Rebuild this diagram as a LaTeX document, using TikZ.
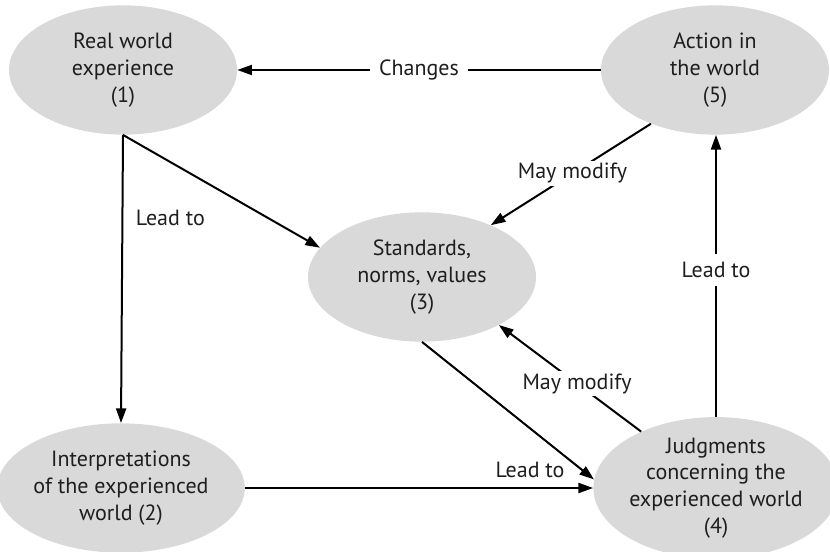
\documentclass[tikz,border=0pt]{standalone}
\usepackage{fontspec}
\setmainfont{PT Sans}
\usetikzlibrary{shapes.geometric,arrows.meta}
\definecolor{blobfill}{RGB}{217,217,217}
\definecolor{inkgray}{RGB}{30,30,30}
\begin{document}
\begin{tikzpicture}[x=0.75pt,y=-0.75pt,
  font=\fontsize{16.5pt}{20pt}\selectfont,
  blob/.style={ellipse,fill=blobfill,draw=none,inner sep=0pt,
    minimum width=171pt,minimum height=97pt,align=center,text=inkgray},
  conn/.style={line width=1.5pt,draw=black,
    -{Triangle[length=11pt,width=7.5pt]}},
  lbl/.style={text=inkgray,inner sep=2pt}]
\useasboundingbox (0,0) rectangle (830,552);

% the five stages
\node[blob] (n1) at (123,70)  {Real world\\experience\\(1)};
\node[blob] (n5) at (715,70)  {Action in\\the world\\(5)};
\node[blob] (n3) at (422,277) {Standards,\\norms, values\\(3)};
\node[blob] (n2) at (121,488) {Interpretations\\of the experienced\\world (2)};
\node[blob,minimum width=167pt] (n4) at (716,488) {Judgments\\concerning the\\experienced world\\(4)};

% connectors
\draw[conn] (n5.west) -- node[lbl,fill=white,inner xsep=7pt] {Changes} (n1.east);
\draw[conn] (n1.south) -- (n2.north);
\node[lbl,anchor=west] (l12) at (133,218) {Lead to};
\draw[conn] (n1.south) -- (n3.164);
\draw[conn] (n5.220) -- node[lbl,fill=white,pos=0.49] {May modify} (n3.37);
\draw[conn] (n4.143) -- node[lbl,fill=white,pos=0.45] {May modify} (n3.328);
\draw[conn] (n3.south) -- (n4.176);
\draw[conn] (n2.east) -- (n2.east -| n4.west);
\node[lbl] (l24) at (530,470) {Lead to};
\draw[conn] (n4.north) -- node[lbl,fill=white,pos=0.52,inner ysep=6pt] {Lead to} (n4.north |- n5.south);
\end{tikzpicture}
\end{document}
